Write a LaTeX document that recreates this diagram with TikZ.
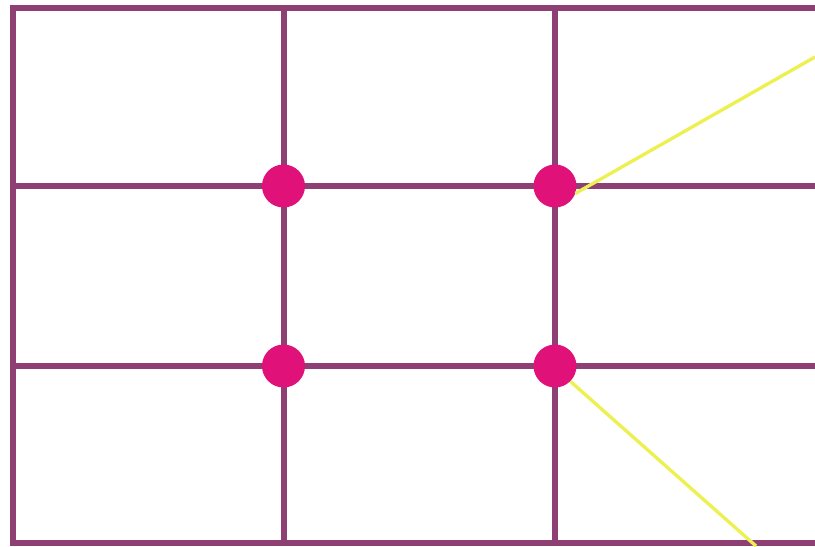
\documentclass[tikz,border=0pt]{standalone}
\usetikzlibrary{calc}

\definecolor{mrizka}{RGB}{142,63,115}
\definecolor{bod}{RGB}{224,18,122}
\definecolor{zluta}{RGB}{236,240,80}

\begin{document}
\begin{tikzpicture}[x=0.03cm,y=-0.03cm,
        linka/.style={draw=mrizka,line width=0.18cm},
        prusecik/.style={circle,fill=bod,inner sep=0pt,minimum size=1.29cm},
        paprsek/.style={draw=zluta,line width=0.1cm}]
        \useasboundingbox (0,0) rectangle (815,546);

        % rám
        \draw[linka] (815,8) -- (13,8) -- (13,543) -- (815,543);

        % svislé přímky
        \draw[linka] (283.5,8) -- (283.5,543);
        \draw[linka] (554.5,8) -- (554.5,543);

        % vodorovné přímky
        \draw[linka] (13,185.5) -- (815,185.5);
        \draw[linka] (13,366) -- (815,366);

        % průsečíky
        \node[prusecik] (hl) at (283.5,186) {};
        \node[prusecik] (hp) at (555,186) {};
        \node[prusecik] (dl) at (283.5,366) {};
        \node[prusecik] (dp) at (555,366) {};

        % paprsky
        \coordinate (k1) at (815,57);
        \coordinate (k2) at (756,546);
        \draw[paprsek] (hp.-20) -- (k1);
        \draw[paprsek] (dp.-45) -- (k2);
    \end{tikzpicture}
\end{document}
